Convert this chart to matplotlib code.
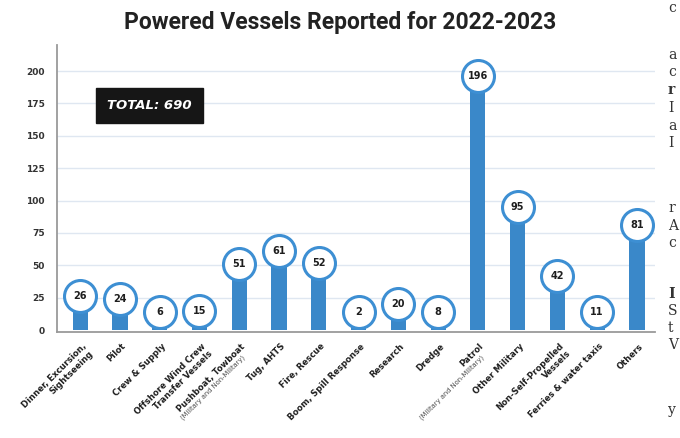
import numpy as np
import matplotlib
matplotlib.use("Agg")
import matplotlib.pyplot as plt

# data
categories = ["Dinner, Excursion,\nSightseeing", "Pilot", "Crew & Supply",
              "Offshore Wind Crew\nTransfer Vessels", "Pushboat, Towboat", "Tug, AHTS",
              "Fire, Rescue", "Boom, Spill Response", "Research", "Dredge", "Patrol",
              "Other Military", "Non-Self-Propelled\nVessels", "Ferries & water taxis",
              "Others"]
sublabels = ["", "", "", "", "(Military and Non-Military)", "", "", "", "", "",
             "(Military and Non-Military)", "", "", "", ""]
counts = [26, 24, 6, 15, 51, 61, 52, 2, 20, 8, 196, 95, 42, 11, 81]
yticks = [0, 25, 50, 75, 100, 125, 150, 175, 200]
title = "Powered Vessels Reported for 2022-2023"
total_text = "TOTAL: 690"

blue = "#3a88c9"
dark = "#1e1e1e"

fig = plt.figure(figsize=(6.8, 4.38), dpi=100)
ax = fig.add_axes([0.084, 0.242, 0.879, 0.655])

x = np.arange(len(counts))
ax.bar(x, counts, width=0.38, color=blue, zorder=2)

# circles with numbers sit at the bar top (lifted a bit for tiny values)
circ_y = [max(v, 14) for v in counts]
ax.scatter(x, circ_y, s=530, facecolor="white", edgecolor="#3d8fd3",
           linewidth=2.2, zorder=3, clip_on=False)
for xi, yi, v in zip(x, circ_y, counts):
    ax.text(xi, yi, str(v), ha="center", va="center", fontsize=7,
            fontweight="bold", color=dark, zorder=4)

ax.set_xlim(-0.58, 14.45)
ax.set_ylim(-1.5, 220)
ax.set_yticks(yticks)
ax.set_yticklabels([str(t) for t in yticks], fontsize=6.5, fontweight="bold",
                   color="#333333")
ax.tick_params(axis="y", length=0, pad=9)
ax.set_xticks([])
for t in yticks[1:]:
    ax.axhline(t, color="#dfe7f1", linewidth=1.0, zorder=0)

for side in ["top", "right"]:
    ax.spines[side].set_visible(False)
ax.spines["left"].set_color("#9a9a9a")
ax.spines["left"].set_linewidth(1.3)
ax.spines["bottom"].set_color("#9a9a9a")
ax.spines["bottom"].set_linewidth(1.3)

# rotated category labels
for xi, lab, sub in zip(x, categories, sublabels):
    ax.annotate(lab, xy=(xi, 0), xycoords=("data", "axes fraction"),
                xytext=(1, -7), textcoords="offset points", rotation=45,
                ha="right", va="top", rotation_mode="anchor",
                multialignment="right", fontsize=6.1, fontweight="bold",
                color=dark, annotation_clip=False)
    if sub:
        ax.annotate(sub, xy=(xi, 0), xycoords=("data", "axes fraction"),
                    xytext=(2, -16), textcoords="offset points", rotation=45,
                    ha="right", va="top", rotation_mode="anchor",
                    fontsize=4.9, color="#4d4d4d", annotation_clip=False)

# total box
ax.text(0.155, 0.79, total_text, transform=ax.transAxes, ha="center", va="center",
        fontsize=9.5, fontweight="bold", fontstyle="italic", color="white",
        bbox=dict(boxstyle="square,pad=0.85", facecolor="#161616", edgecolor="#161616"),
        zorder=5)

fig.text(0.5, 0.948, title, ha="center", va="center", fontsize=16.5,
         fontweight="bold", color="#222222", family=["Roboto", "DejaVu Sans"])

# cut-off letters of the page text on the right edge
edge_letters = [("c", 8), ("a", 55), ("c", 72), ("r", 90), ("I", 108), ("a", 126),
                ("I", 143), ("r", 208), ("A", 226), ("c", 243), ("I", 294),
                ("S", 311), ("t", 328), ("V", 345), ("y", 410)]
for ch, py in edge_letters:
    fig.text(668 / 680, 1 - py / 438, ch, ha="left", va="center", fontsize=10,
             color="#333333", family="DejaVu Serif",
             fontweight="bold" if ch in ("r", "I") and py in (90, 294) else "normal")

fig.savefig("out.png", dpi=100)
